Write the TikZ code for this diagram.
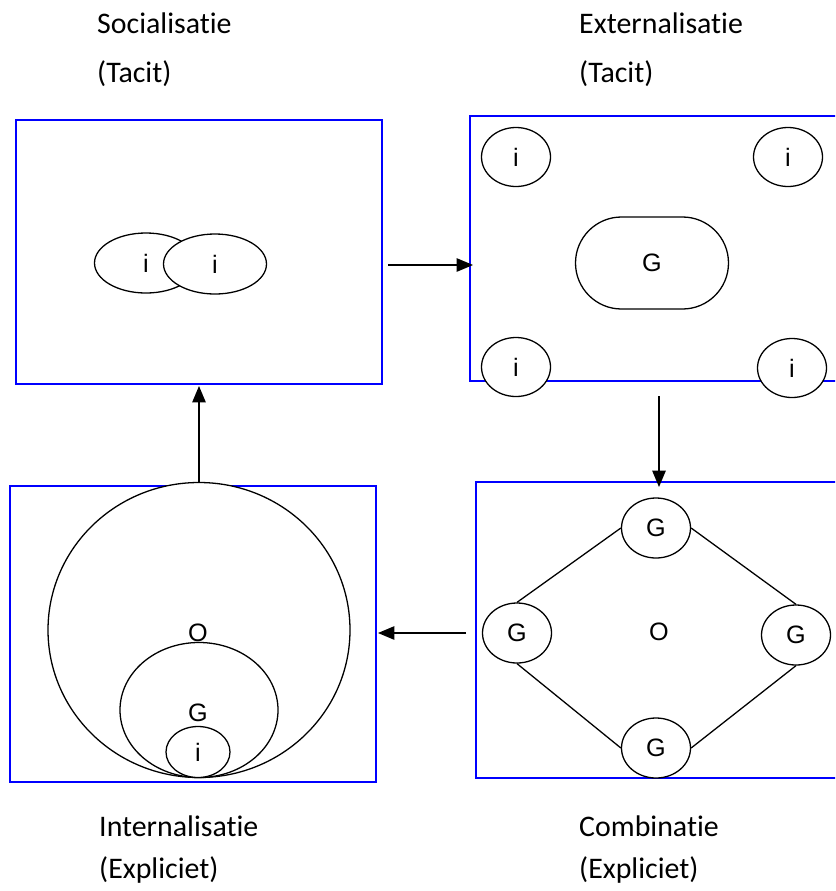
\documentclass[tikz,border=0pt]{standalone}
\usepackage{fontspec}
\setmainfont[Ligatures=NoCommon]{Carlito}
\newfontfamily\arialfont{Liberation Sans}
\usetikzlibrary{positioning, shapes, arrows.meta}
\newcommand{\pxl}{0.03cm}
\tikzset{
  frame/.style={draw=blue, line width=1.2pt},
  blob/.style={ellipse, draw, line width=1.1pt, fill=white, inner sep=0pt,
    font=\arialfont\fontsize{21.5}{25}\selectfont},
  tag/.style={inner sep=0pt, font=\arialfont\fontsize{21.5}{25}\selectfont},
  caption/.style={anchor=base west, inner sep=0pt, font=\fontsize{25.5}{30}\selectfont},
  flow/.style={line width=1.1pt, -{Triangle[length=14pt,width=11.5pt]}},
  link/.style={line width=1.1pt}}

\begin{document}
\begin{tikzpicture}[x=\pxl, y=-\pxl]
\path[use as bounding box, clip] (0,0) rectangle (835,891);
% captions
\node[caption] (soc) at (97,33) {Socialisatie};
\node[caption] (soct) at (97,82) {(Tacit)};
\node[caption] (ext) at (579,33) {Externalisatie};
\node[caption] (extt) at (579,82) {(Tacit)};
\node[caption] (int) at (99,836) {Internalisatie};
\node[caption] (inte) at (99,878) {(Expliciet)};
\node[caption] (com) at (579,836) {Combinatie};
\node[caption] (come) at (579,878) {(Expliciet)};
% frames
\draw[frame] (16,120) rectangle (382,384);
\draw[frame] (470,116) rectangle (850,381);
\draw[frame] (476,482) rectangle (850,778);
\draw[frame] (10,486) rectangle (376,782);
% socialisatie
\node[blob, minimum width=103*\pxl, minimum height=60*\pxl] (s1) at (146,263) {i};
\node[blob, minimum width=103*\pxl, minimum height=60*\pxl] (s2) at (215,264) {i};
% externalisatie
\node[blob, minimum width=69*\pxl, minimum height=59*\pxl] (e1) at (516,157) {i};
\node[blob, minimum width=69*\pxl, minimum height=59*\pxl] (e2) at (788,157) {i};
\node[blob, minimum width=69*\pxl, minimum height=59*\pxl] (e3) at (516,367) {i};
\node[blob, minimum width=69*\pxl, minimum height=59*\pxl] (e4) at (792,368) {i};
\node[blob, rectangle, rounded corners=46*\pxl, minimum width=153*\pxl,
  minimum height=92*\pxl] (eg) at (652,263) {G};
% combinatie
\node[blob, minimum width=69*\pxl, minimum height=60*\pxl] (ct) at (656,528) {G};
\node[blob, minimum width=69*\pxl, minimum height=60*\pxl] (cl) at (517,633) {G};
\node[blob, minimum width=69*\pxl, minimum height=60*\pxl] (cr) at (796,635) {G};
\node[blob, minimum width=69*\pxl, minimum height=60*\pxl] (cb) at (656,748) {G};
\node[tag] (co) at (659,632) {O};
\draw[link] (ct.west) -- (cl.north);
\draw[link] (ct.east) -- (cr.north);
\draw[link] (cl.south) -- (cb.west);
\draw[link] (cr.south) -- (cb.east);
% internalisatie
\node[blob, minimum width=302*\pxl, minimum height=295*\pxl] (io) at (199,630) {};
\node[blob, minimum width=158*\pxl, minimum height=135*\pxl] (ig) at (199,710) {};
\node[blob, minimum width=64*\pxl, minimum height=51*\pxl] (ii) at (198,752) {i};
\node[tag] (iol) at (198,633) {O};
\node[tag] (igl) at (198,713) {G};
% arrows
\coordinate (a1) at (388,265);
\coordinate (a2) at (473,265);
\coordinate (b1) at (659,396);
\coordinate (b2) at (659,487);
\coordinate (c1) at (466,633);
\coordinate (c2) at (378,633);
\coordinate (d2) at (199,386);
\draw[flow] (a1) -- (a2);
\draw[flow] (b1) -- (b2);
\draw[flow] (c1) -- (c2);
\draw[flow] (io.north) -- (d2);
\end{tikzpicture}
\end{document}
